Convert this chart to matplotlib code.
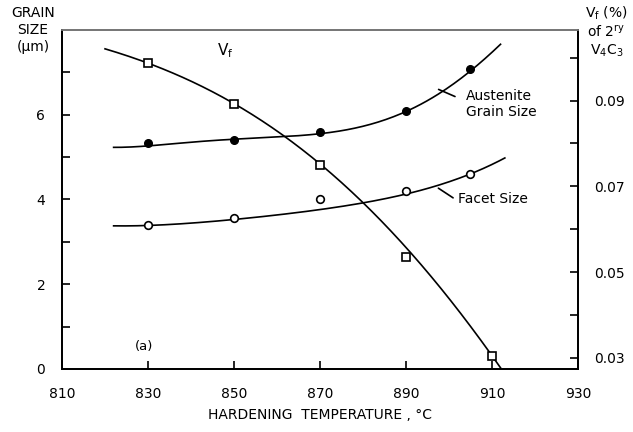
import matplotlib.pyplot as plt
import numpy as np

# measured points
temp = [830, 850, 870, 890, 905]
austenite = [5.32, 5.39, 5.58, 6.09, 7.08]
facet = [3.39, 3.55, 4.0, 4.19, 4.59]
vf_temp = [830, 850, 870, 890, 910]
vf = [0.0988, 0.0893, 0.0749, 0.0535, 0.0305]

# smooth curves
aus_curve_t = [822, 830, 840, 850, 860, 870, 880, 890, 900, 905, 912]
aus_curve = [5.22, 5.28, 5.34, 5.40, 5.48, 5.57, 5.72, 6.05, 6.65, 7.05, 7.65]
fac_curve_t = [822, 830, 840, 850, 860, 870, 880, 890, 900, 905, 913]
fac_curve = [3.37, 3.39, 3.45, 3.52, 3.62, 3.75, 3.93, 4.15, 4.40, 4.58, 4.99]
vf_curve_t = [820, 830, 840, 850, 860, 870, 880, 890, 900, 905, 910, 912]
vf_curve = [0.1021, 0.0987, 0.0944, 0.0893, 0.0830, 0.0755, 0.0660, 0.0553, 0.0440, 0.0378, 0.0305, 0.0274]

xticks = [810, 830, 850, 870, 890, 910, 930]
yticks = [0, 2, 4, 6]
y2ticks = [0.03, 0.05, 0.07, 0.09]


def smooth(tx, ty, deg):
    # fitted trend line through the traced points, like the hand-drawn curve
    c = np.polyfit(tx, ty, deg)
    xs = np.linspace(tx[0], tx[-1], 200)
    return xs, np.polyval(c, xs)


plt.rcParams['font.family'] = ['DejaVu Sans']
fig = plt.figure(figsize=(6.33, 4.32), dpi=100)
ax = fig.add_axes([0.098, 0.146, 0.815, 0.785])
ax2 = ax.twinx()

ax.plot(*smooth(aus_curve_t, aus_curve, 5), color='black', lw=1.2)
ax.plot(*smooth(fac_curve_t, fac_curve, 4), color='black', lw=1.2)
ax.plot(temp, austenite, 'o', color='black', ms=5.5)
ax.plot(temp, facet, 'o', mfc='white', mec='black', mew=1.2, ms=5.5)

ax2.plot(*smooth(vf_curve_t, vf_curve, 4), color='black', lw=1.2)
ax2.plot(vf_temp, vf, 's', mfc='white', mec='black', mew=1.2, ms=5.5)

ax.set_xlim(810, 930)
ax.set_ylim(0, 8)
ax2.set_ylim(0.0274, 0.1065)

ax.set_xticks(xticks)
ax.set_yticks(yticks)
ax.set_yticks([1, 3, 5, 7], minor=True)
ax2.set_yticks(y2ticks)
ax2.set_yticklabels(['0.03', '0.05', '0.07', '0.09'])
ax2.set_yticks([0.04, 0.06, 0.08, 0.10], minor=True)

for a in (ax, ax2):
    a.tick_params(direction='in', length=6, width=1.2, labelsize=10)
    a.tick_params(which='minor', direction='in', length=6, width=1.2)
    for s in a.spines.values():
        s.set_linewidth(1.3)
ax.tick_params(axis='x', pad=13)
ax.tick_params(axis='y', pad=12)
ax2.tick_params(axis='y', pad=12)
ax.spines['top'].set_color('#777777')
ax2.spines['top'].set_color('#777777')

ax.set_xlabel('HARDENING  TEMPERATURE , °C', fontsize=10, labelpad=5)

fig.text(0.052, 0.985, 'GRAIN\nSIZE\n(μm)', ha='center', va='top', fontsize=10,
         linespacing=1.25)
fig.text(0.958, 0.99, 'V$_\\mathregular{f}$ (%)\nof 2$^\\mathregular{ry}$\nV$_\\mathregular{4}$C$_\\mathregular{3}$',
         ha='center', va='top', fontsize=10, linespacing=1.2)

ax2.text(846, 0.1005, 'V$_\\mathregular{f}$', fontsize=11)
ax.annotate('', xy=(897, 6.62), xytext=(902, 6.4),
            arrowprops=dict(arrowstyle='-', color='black', lw=1.2))
ax.text(904, 6.25, 'Austenite\nGrain Size', fontsize=10, va='center', linespacing=1.1)
ax.annotate('', xy=(897, 4.3), xytext=(901.5, 4.0),
            arrowprops=dict(arrowstyle='-', color='black', lw=1.2))
ax.text(902, 4.0, 'Facet Size', fontsize=10, va='center')
ax.text(827, 0.45, '(a)', fontsize=9.5)

fig.savefig('out.png', dpi=100)
